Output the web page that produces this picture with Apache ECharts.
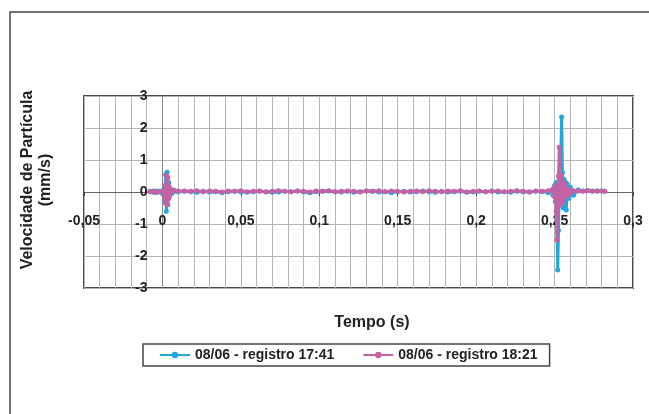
<!DOCTYPE html>
<html>
<head>
<meta charset="utf-8">
<script src="https://cdn.jsdelivr.net/npm/echarts@6/dist/echarts.min.js"></script>
<style>html,body{margin:0;padding:0;background:#fff;}#c{width:649px;height:414px;}</style>
</head>
<body>
<div id="c"></div>
<script>
// Time stamps (s)
var times = [
  -0.008,-0.006,-0.004,-0.002,0.000,0.001,0.0015,0.002,0.0025,0.003,0.0035,0.004,0.0045,0.005,0.006,0.007,0.008,0.010,
  0.014,0.018,0.022,0.026,0.030,0.034,0.038,0.042,0.046,0.050,
  0.054,0.058,0.062,0.066,0.070,0.074,0.078,0.082,0.086,0.090,
  0.094,0.098,0.102,0.106,0.110,0.114,0.118,0.122,0.126,0.130,
  0.134,0.138,0.142,0.146,0.150,0.154,0.158,0.162,0.166,0.170,
  0.174,0.178,0.182,0.186,0.190,0.194,0.198,0.202,0.206,0.210,
  0.214,0.218,0.222,0.226,0.230,0.234,0.238,0.242,0.246,
  0.248,0.249,0.250,0.2505,0.251,0.2515,0.252,0.2525,0.253,0.2535,0.254,0.2545,0.255,0.2555,0.256,0.2565,0.257,0.2575,0.258,0.259,0.260,0.262,0.265,0.268,0.271,0.274,0.277,0.280,0.282
];
// 08/06 - registro 17:41 (mm/s)
var blueValues = [
  0.02,-0.01,0.03,0.00,-0.05,0.10,-0.30,0.55,-0.60,0.62,-0.40,0.30,-0.15,0.10,-0.05,0.04,0.02,0.01,
  0.02,0.01,-0.01,0.02,0.00,0.01,-0.02,0.01,0.02,0.00,
  -0.01,0.01,0.02,0.01,-0.01,0.00,0.02,0.01,0.03,0.00,
  -0.02,0.01,0.02,0.03,0.01,0.00,0.02,-0.01,0.01,0.03,
  0.02,0.00,0.01,-0.02,0.01,0.02,0.00,0.01,0.03,0.01,
  -0.01,0.02,0.00,0.01,0.02,-0.01,0.00,0.02,0.01,0.03,
  0.00,0.01,-0.01,0.02,0.01,0.00,0.02,0.01,-0.02,
  0.05,-0.10,0.20,-0.30,0.30,-0.80,-2.44,-1.20,0.40,-0.40,1.20,2.34,0.60,-0.50,0.40,-0.30,0.30,-0.56,0.25,-0.20,0.15,-0.10,0.06,0.03,0.05,0.02,0.04,0.03,0.02
];
// 08/06 - registro 18:21 (mm/s)
var pinkValues = [
  0.01,0.03,-0.02,0.02,0.02,-0.10,0.20,-0.35,0.52,-0.40,0.45,-0.20,0.15,-0.05,0.03,0.06,0.04,0.03,
  0.03,0.02,0.04,0.01,0.03,0.02,0.00,0.03,0.02,0.04,
  0.01,0.02,0.03,0.00,0.02,0.04,0.02,0.01,0.03,0.02,
  0.00,0.03,0.02,0.04,0.01,0.02,0.03,0.02,0.00,0.03,
  0.02,0.04,0.01,0.03,0.02,0.00,0.02,0.03,0.01,0.04,
  0.02,0.01,0.03,0.02,0.04,0.00,0.02,0.03,0.01,0.02,
  0.03,0.01,0.02,0.04,0.02,0.00,0.03,0.02,0.04,
  0.03,0.10,-0.15,0.20,-0.60,-1.50,-0.30,0.50,1.40,0.20,-0.40,0.50,-0.30,0.30,-0.20,0.25,-0.15,0.10,-0.10,0.08,-0.05,0.04,0.03,0.02,0.04,0.03,0.02,0.03,0.02
];
var seriesNames = ['08/06 - registro 17:41', '08/06 - registro 18:21'];
var xTicks = { min: -0.05, max: 0.3, interval: 0.05 };
var yTicks = { min: -3, max: 3, interval: 1 };

function zip(t, v) { return t.map(function (x, i) { return [x, v[i]]; }); }
var FONT = '"Liberation Sans", Arial, sans-serif';
var fmt = function (v) { return String(Math.round(v * 1000) / 1000).replace('.', ','); };

var W = 649, H = 414;
var gridLeft = 84, gridRight = 16, gridTop = 96, gridBottom = 126;
var plotW = W - gridLeft - gridRight;
var plotH = H - gridTop - gridBottom;
// move the axes so they cross each other at (0, 0)
var yAxisOffset = -plotW * (0 - xTicks.min) / (xTicks.max - xTicks.min);
var xAxisOffset = -plotH * (0 - yTicks.min) / (yTicks.max - yTicks.min);

var chart = echarts.init(document.getElementById('c'), null, { renderer: 'canvas' });
chart.setOption({
  animation: false,
  backgroundColor: '#fff',
  grid: { left: gridLeft, right: gridRight, top: gridTop, bottom: gridBottom, show: true, borderColor: '#4a4a4a', borderWidth: 2, backgroundColor: 'transparent' },
  xAxis: {
    type: 'value', min: xTicks.min, max: xTicks.max, interval: xTicks.interval,
    offset: xAxisOffset,
    axisLine: { show: true, onZero: false, lineStyle: { color: '#666', width: 1 } },
    axisTick: { show: true, length: 4, lineStyle: { color: '#444' } },
    minorTick: { show: false, splitNumber: 5 },
    splitLine: { show: true, lineStyle: { color: '#b4b4b4', width: 1 } },
    minorSplitLine: { show: true, lineStyle: { color: '#b4b4b4', width: 1 } },
    axisLabel: { margin: 22, color: '#222', fontSize: 14, fontWeight: 'bold', fontFamily: FONT, formatter: fmt, showMinLabel: true, showMaxLabel: true }
  },
  yAxis: {
    type: 'value', min: yTicks.min, max: yTicks.max, interval: yTicks.interval,
    offset: yAxisOffset,
    axisLine: { show: true, onZero: false, lineStyle: { color: '#888', width: 1 } },
    axisTick: { show: false },
    splitLine: { show: true, lineStyle: { color: '#b4b4b4', width: 1 } },
    axisLabel: { margin: 15, color: '#222', fontSize: 14, fontWeight: 'bold', fontFamily: FONT, formatter: fmt }
  },
  legend: {
    left: 143, top: 344, orient: 'horizontal',
    padding: [4, 12, 4, 16],
    itemGap: 28, itemWidth: 30, itemHeight: 8,
    borderColor: '#444', borderWidth: 1.5,
    textStyle: { fontSize: 14, fontWeight: 'bold', color: '#222', fontFamily: FONT },
    data: seriesNames
  },
  graphic: [
    { type: 'rect', shape: { x: 10, y: 12, width: 700, height: 500 }, style: { fill: 'none', stroke: '#444', lineWidth: 1.5 }, silent: true, z: -1 },
    { type: 'text', x: 372, y: 323, style: { text: 'Tempo (s)', font: 'bold 16px ' + FONT, fill: '#222', textAlign: 'center', textVerticalAlign: 'middle' } },
    { type: 'text', x: 37, y: 180, rotation: Math.PI / 2, style: { text: 'Velocidade de Partícula\n(mm/s)', font: 'bold 16px ' + FONT, fill: '#222', textAlign: 'center', textVerticalAlign: 'middle', lineHeight: 18 } }
  ],
  series: [
    { name: seriesNames[0], type: 'line', data: zip(times, blueValues), color: '#22a6de',
      lineStyle: { width: 3 }, symbol: 'circle', symbolSize: 5, showAllSymbol: true, z: 2 },
    { name: seriesNames[1], type: 'line', data: zip(times, pinkValues), color: '#c462a6',
      lineStyle: { width: 3 }, symbol: 'circle', symbolSize: 5, showAllSymbol: true, z: 3 }
  ]
});
</script>
</body>
</html>
